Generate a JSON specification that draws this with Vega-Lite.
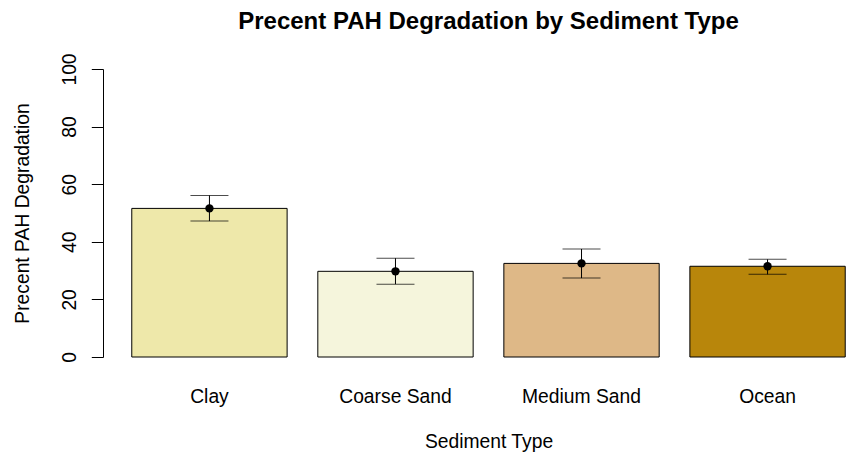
{
  "$schema": "https://vega.github.io/schema/vega-lite/v6.json",
  "autosize": "none",
  "width": 771,
  "height": 288,
  "padding": {"left": 103, "top": 69, "right": 0, "bottom": 95},
  "background": "white",
  "config": {
    "view": {"stroke": null},
    "font": "Liberation Sans",
    "axis": {"labelFont": "Liberation Sans", "titleFont": "Liberation Sans", "labelColor": "black", "titleColor": "black", "titleFontWeight": "normal", "grid": false}
  },
  "title": {
    "text": "Precent PAH Degradation by Sediment Type",
    "font": "Liberation Sans",
    "fontSize": 24,
    "fontWeight": "bold",
    "color": "black",
    "anchor": "middle",
    "frame": "group",
    "baseline": "alphabetic",
    "offset": 0
  },
  "data": {
    "values": [
      {"type": "Clay", "mean": 51.6, "lo": 47.2, "hi": 56.1},
      {"type": "Coarse Sand", "mean": 29.75, "lo": 25.3, "hi": 34.3},
      {"type": "Medium Sand", "mean": 32.5, "lo": 27.4, "hi": 37.5},
      {"type": "Ocean", "mean": 31.5, "lo": 28.7, "hi": 33.9}
    ]
  },
  "encoding": {
    "x": {
      "field": "type",
      "type": "nominal",
      "sort": null,
      "scale": {"paddingInner": 0.165, "paddingOuter": 0.1547},
      "axis": {
        "title": "Sediment Type",
        "labelAngle": 0,
        "domain": false,
        "ticks": false,
        "tickSize": 0,
        "labelPadding": 45,
        "labelBaseline": "alphabetic",
        "labelFontSize": 19.3,
        "titleFontSize": 19.3,
        "titleBaseline": "alphabetic",
        "titleY": 90,
        "titleX": 385.5,
        "titleAlign": "center"
      }
    }
  },
  "layer": [
    {
      "mark": {"type": "bar", "stroke": "black", "strokeWidth": 1},
      "encoding": {
        "y": {
          "field": "mean",
          "type": "quantitative",
          "scale": {"domain": [0, 100], "nice": false, "zero": true},
          "axis": {
            "title": "Precent PAH Degradation",
            "values": [0, 20, 40, 60, 80, 100],
            "tickSize": 11.7,
            "tickColor": "black",
            "domainColor": "black",
            "labelAngle": 270,
            "labelAlign": "center",
            "labelBaseline": "alphabetic",
            "labelPadding": 15.5,
            "labelFontSize": 19.3,
            "labelOverlap": false,
            "titleFontSize": 19.3,
            "titleAngle": 270,
            "titleAlign": "center",
            "titleBaseline": "alphabetic",
            "titleX": -75,
            "titleY": 144
          }
        },
        "color": {
          "field": "type",
          "type": "nominal",
          "scale": {"domain": ["Clay", "Coarse Sand", "Medium Sand", "Ocean"], "range": ["#EEE8AA", "#F5F5DC", "#DEB887", "#B8860B"]},
          "legend": null
        }
      }
    },
    {
      "mark": {"type": "rule", "color": "black", "strokeWidth": 1},
      "encoding": {
        "y": {"field": "lo", "type": "quantitative"},
        "y2": {"field": "hi"}
      }
    },
    {
      "mark": {"type": "tick", "color": "black", "thickness": 1, "size": 38, "orient": "horizontal"},
      "encoding": {"y": {"field": "lo", "type": "quantitative"}}
    },
    {
      "mark": {"type": "tick", "color": "black", "thickness": 1, "size": 38, "orient": "horizontal"},
      "encoding": {"y": {"field": "hi", "type": "quantitative"}}
    },
    {
      "mark": {"type": "point", "filled": true, "color": "black", "opacity": 1, "size": 70},
      "encoding": {"y": {"field": "mean", "type": "quantitative"}}
    }
  ]
}
